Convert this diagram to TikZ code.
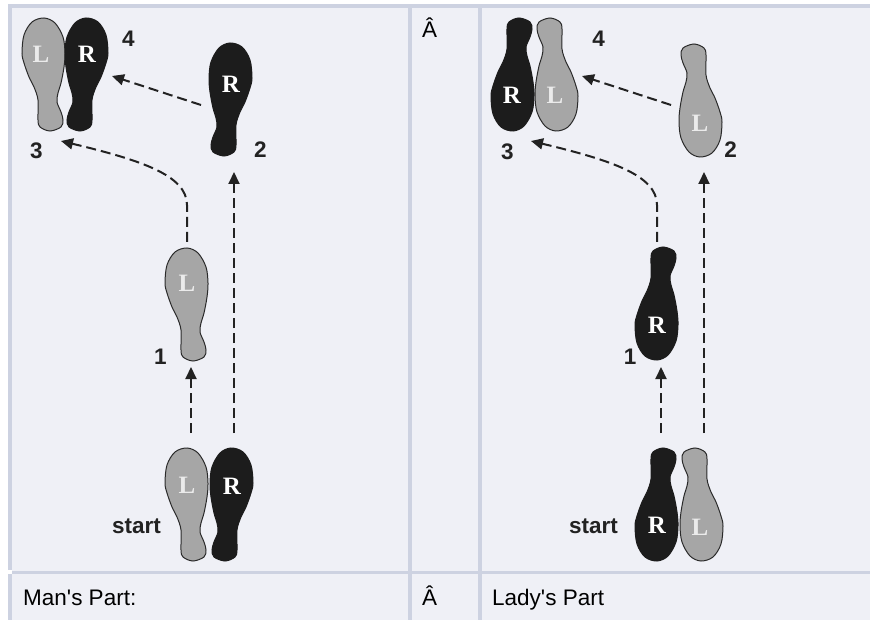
\documentclass[tikz,border=0pt]{standalone}
\usepackage{fontspec}
\setmainfont{Liberation Sans}
\newfontfamily\lserif{Liberation Serif}
\usetikzlibrary{arrows.meta}
\definecolor{tbg}{HTML}{EFF0F6}
\definecolor{tline}{HTML}{CDD2E1}
\definecolor{fgray}{HTML}{A6A6A6}
\definecolor{fblack}{HTML}{1C1C1C}
\definecolor{fedge}{HTML}{2A2A2A}
\definecolor{ink}{HTML}{222222}
\newcommand\footpath[1]{\draw[#1] plot[smooth cycle,tension=0.55] coordinates {(22,0) (33,5) (41,19) (43,35) (42,49) (39,65) (36,75) (35,84) (39,94) (41,102) (39,109) (28,113) (18,109) (16,102) (16,82) (12,69) (7,59) (2,45) (0,35) (2,17) (10,4)};}
\begin{document}
\begin{tikzpicture}[x=1pt,y=-1pt,
  gfoot/.style={fill=fgray,draw=fedge,line width=1pt},
  bfoot/.style={fill=fblack,draw=fblack,line width=1pt},
  ltrg/.style={font=\lserif\bfseries\fontsize{25}{25}\selectfont,inner sep=0,text=white!92!black},
  ltrb/.style={font=\lserif\bfseries\fontsize{25}{25}\selectfont,inner sep=0,text=white},
  num/.style={font=\bfseries\fontsize{22.5}{22.5}\selectfont,inner sep=0,text=ink},
  cell/.style={font=\fontsize{22.5}{22.5}\selectfont,inner sep=0,anchor=base west,text=black},
  dl/.style={draw=ink,line width=2pt,dash pattern=on 10pt off 5pt,-{Triangle[length=12pt,width=11pt]}}
]
\useasboundingbox (0,0) rectangle (870,620);
% table
\fill[white] (0,0) rectangle (870,620);
\fill[tbg] (12,8) rectangle (870,620);
\fill[tline] (8,4) rectangle (870,8);
\fill[tline] (8,8) rectangle (12,570);
\fill[tline] (8,574) rectangle (12,620);
\fill[tline] (12,571) rectangle (870,574);
\fill[tline] (408,8) rectangle (412,620);
\fill[tline] (478,8) rectangle (482,620);
% cell texts
\node[cell] (tman) at (23,605) {Man\textquotesingle s Part:};
\node[cell] (tA1) at (422,38) {Â};
\node[cell] (tA2) at (422,605) {Â};
\node[cell] (tlady) at (492,605) {Lady\textquotesingle s Part};
% ---- man's feet
\footpath{gfoot,shift={(165,248)}}
\footpath{bfoot,shift={(252,43)},xscale=-1}
\footpath{gfoot,shift={(22,18)}}
\footpath{bfoot,shift={(108,18)},xscale=-1}
\footpath{gfoot,shift={(165,448)}}
\footpath{bfoot,shift={(253,448)},xscale=-1}
\node[ltrg] (mL1) at (187,283) {L};
\node[ltrb] (mR2) at (231,84) {R};
\node[ltrg] (mL3) at (41,54) {L};
\node[ltrb] (mR4) at (87,54) {R};
\node[ltrg] (mLs) at (187,485) {L};
\node[ltrb] (mRs) at (232,486) {R};
% ---- lady's feet
\footpath{bfoot,shift={(635,360)},yscale=-1}
\footpath{gfoot,shift={(722,157)},xscale=-1,yscale=-1}
\footpath{bfoot,shift={(491,131)},yscale=-1}
\footpath{gfoot,shift={(578,131)},xscale=-1,yscale=-1}
\footpath{bfoot,shift={(635,561)},yscale=-1}
\footpath{gfoot,shift={(723,561)},xscale=-1,yscale=-1}
\node[ltrb] (lR1) at (657,325) {R};
\node[ltrg] (lL2) at (700,123) {L};
\node[ltrb] (lR3) at (512,95) {R};
\node[ltrg] (lL4) at (555,95) {L};
\node[ltrb] (lRs) at (657,525) {R};
\node[ltrg] (lLs) at (700,527) {L};
% ---- numbers
\node[num] (m1) at (160.5,356.5) {1};
\node[num] (m2) at (260.5,150) {2};
\node[num] (m3) at (36.5,151) {3};
\node[num] (m4) at (128.5,38.5) {4};
\node[num,anchor=base east] (mst) at (161,533) {start};
\node[num] (l1) at (630,356.5) {1};
\node[num] (l2) at (730.5,150) {2};
\node[num] (l3) at (507.5,151.5) {3};
\node[num] (l4) at (598.5,39) {4};
\node[num,anchor=base east] (lst) at (618,533) {start};
% ---- man's paths
\coordinate (mA0) at (191,433); \coordinate (mA1) at (191,367);
\coordinate (mB0) at (234,433); \coordinate (mB1) at (234,172);
\coordinate (mC0) at (187,242); \coordinate (mCk) at (187,205); \coordinate (mC1) at (61,141);
\coordinate (mD0) at (201,105); \coordinate (mD1) at (112,76);
\draw[dl] (mA0) -- (mA1);
\draw[dl] (mB0) -- (mB1);
\draw[dl] (mC0) -- (mCk) .. controls (187,175) and (140,160) .. (mC1);
\draw[dl] (mD0) -- (mD1);
% ---- lady's paths
\coordinate (lA0) at (661,433); \coordinate (lA1) at (661,367);
\coordinate (lB0) at (704,433); \coordinate (lB1) at (704,172);
\coordinate (lC0) at (657,242); \coordinate (lCk) at (657,205); \coordinate (lC1) at (531,141);
\coordinate (lD0) at (671,105); \coordinate (lD1) at (582,76);
\draw[dl] (lA0) -- (lA1);
\draw[dl] (lB0) -- (lB1);
\draw[dl] (lC0) -- (lCk) .. controls (657,175) and (610,160) .. (lC1);
\draw[dl] (lD0) -- (lD1);
\end{tikzpicture}
\end{document}
